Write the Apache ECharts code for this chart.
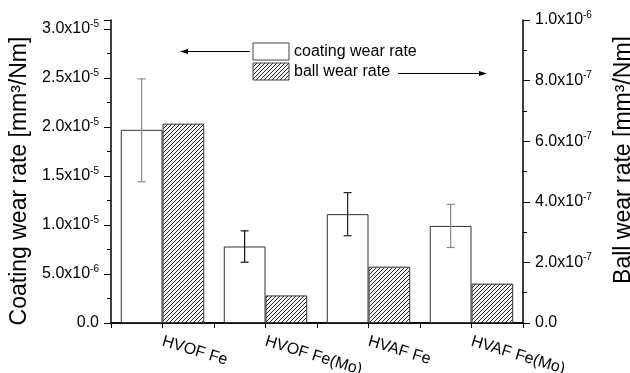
<!DOCTYPE html>
<html>
<head>
<meta charset="utf-8">
<script src="https://cdn.jsdelivr.net/npm/echarts@6/dist/echarts.min.js"></script>
<style>
  html, body { margin: 0; background: #fff; }
  #chart { width: 630px; height: 373px; }
</style>
</head>
<body>
<div id="chart"></div>
<script>
// data
const categories = ['HVOF Fe', 'HVOF Fe(Mo)', 'HVAF Fe', 'HVAF Fe(Mo)']
const coatingRate = [1.97e-5, 7.8e-6, 1.11e-5, 9.9e-6]
const coatingErrLow = [1.44e-5, 6.2e-6, 8.9e-6, 7.7e-6]
const coatingErrHigh = [2.49e-5, 9.4e-6, 1.33e-5, 1.21e-5]
const ballRate = [6.58e-7, 9.1e-8, 1.86e-7, 1.3e-7]
const seriesNames = ['coating wear rate', 'ball wear rate']

// error bar colours per category (some are grey in the original)
const errColors = ['#8a8a8a', '#111', '#222', '#8a8a8a']

const FONT = '"Liberation Sans", Arial, sans-serif'
const GAP = 0.19

// diagonal hatch for the ball bars
const makeHatch = () => {
  const c = document.createElement('canvas')
  c.width = 8
  c.height = 8
  const ctx = c.getContext('2d')
  ctx.fillStyle = '#f4f4f4'
  ctx.fillRect(0, 0, 8, 8)
  ctx.strokeStyle = '#2a2a2a'
  ctx.lineWidth = 1
  for (let k = -8; k <= 8; k += 4) {
    ctx.beginPath()
    ctx.moveTo(k, 8)
    ctx.lineTo(k + 8, 0)
    ctx.stroke()
  }
  return c
}
const hatch = makeHatch()

const sciLabel = (v) => {
  if (Math.abs(v) < 1e-15) return '{m|0.0}'
  const exp = Math.floor(Math.log10(v) + 1e-9)
  const mant = (v / Math.pow(10, exp)).toFixed(1)
  return `{m|${mant}x10}{e|${exp}}`
}

const labelRich = {
  m: { fontSize: 16, fontFamily: FONT, color: '#000', lineHeight: 20 },
  e: { fontSize: 10, fontFamily: FONT, color: '#000', lineHeight: 10, verticalAlign: 'top' },
}

const chart = echarts.init(document.getElementById('chart'), null, { renderer: 'canvas' })

const option = {
  backgroundColor: '#fff',
  animation: false,
  grid: { left: 111, right: 107, top: 20, bottom: 50, containLabel: false, outerBoundsMode: 'none' },
  xAxis: [
    {
      type: 'category',
      data: categories,
      position: 'bottom',
      axisLine: { lineStyle: { color: '#000', width: 1.5 } },
      axisTick: { show: false },
      axisLabel: {
        rotate: -17,
        margin: 18,
        fontSize: 16,
        fontFamily: FONT,
        color: '#000',
        interval: 0,
      },
    },
    {
      type: 'value',
      position: 'top',
      min: 0,
      max: 8,
      interval: 1,
      axisLine: { show: true, lineStyle: { color: '#000', width: 1.5 } },
      axisTick: { show: true, inside: true, length: 5, lineStyle: { color: '#000' } },
      axisLabel: { show: false },
      splitLine: { show: false },
    },
  ],
  yAxis: [
    {
      type: 'value',
      position: 'left',
      min: 0,
      max: 3.09e-5,
      interval: 5e-6,
      name: 'Coating wear rate [mm³/Nm]',
      nameLocation: 'middle',
      nameRotate: 90,
      nameGap: 78,
      nameTextStyle: { fontSize: 23, fontFamily: FONT, color: '#000', padding: [0, 19, 0, 0] },
      axisLine: { show: true, lineStyle: { color: '#000', width: 1.5 } },
      axisTick: { show: true, length: 7, lineStyle: { color: '#000' } },
      minorTick: { show: true, splitNumber: 2, length: 4, lineStyle: { color: '#000' } },
      axisLabel: { margin: 12, formatter: sciLabel, rich: labelRich, showMaxLabel: false },
      splitLine: { show: false },
    },
    {
      type: 'value',
      position: 'right',
      min: 0,
      max: 1e-6,
      interval: 2e-7,
      name: 'Ball wear rate [mm³/Nm]',
      nameLocation: 'middle',
      nameRotate: 90,
      nameGap: 89,
      nameTextStyle: { fontSize: 23, fontFamily: FONT, color: '#000', padding: [0, 0, 0, 23] },
      axisLine: { show: true, lineStyle: { color: '#000', width: 1.5 } },
      axisTick: { show: true, length: 7, lineStyle: { color: '#000' } },
      minorTick: { show: true, splitNumber: 2, length: 4, lineStyle: { color: '#000' } },
      axisLabel: { margin: 12, formatter: sciLabel, rich: labelRich },
      splitLine: { show: false },
    },
  ],
  series: [
    {
      name: seriesNames[0],
      type: 'bar',
      xAxisIndex: 0,
      yAxisIndex: 0,
      data: coatingRate,
      barGap: '0%',
      barCategoryGap: GAP * 100 + '%',
      itemStyle: { color: '#fff', borderColor: '#333', borderWidth: 1 },
      z: 2,
    },
    {
      name: seriesNames[1],
      type: 'bar',
      xAxisIndex: 0,
      yAxisIndex: 1,
      data: ballRate,
      barGap: '0%',
      barCategoryGap: GAP * 100 + '%',
      itemStyle: { color: { image: hatch, repeat: 'repeat' }, borderColor: '#333', borderWidth: 1 },
      z: 2,
    },
    {
      name: 'error',
      type: 'custom',
      xAxisIndex: 0,
      yAxisIndex: 0,
      z: 3,
      data: categories.map((c, i) => [i, coatingErrLow[i], coatingErrHigh[i]]),
      renderItem: (params, api) => {
        const i = api.value(0)
        const band = api.size([1, 0])[0]
        const shift = -band * (1 - GAP) / 4
        const lo = api.coord([i, api.value(1)])
        const hi = api.coord([i, api.value(2)])
        const x = lo[0] + shift
        const cap = 4
        const style = { stroke: errColors[i], lineWidth: 1.2 }
        return {
          type: 'group',
          children: [
            { type: 'line', shape: { x1: x, y1: lo[1], x2: x, y2: hi[1] }, style },
            { type: 'line', shape: { x1: x - cap, y1: lo[1], x2: x + cap, y2: lo[1] }, style },
            { type: 'line', shape: { x1: x - cap, y1: hi[1], x2: x + cap, y2: hi[1] }, style },
          ],
        }
      },
    },
  ],
  // legend box and the two arrows pointing to the axes
  graphic: [
    { type: 'rect', shape: { x: 253, y: 43, width: 36, height: 17 }, style: { fill: '#fff', stroke: '#444', lineWidth: 1 } },
    { type: 'rect', shape: { x: 253, y: 63, width: 36, height: 17 }, style: { fill: { image: hatch, repeat: 'repeat' }, stroke: '#444', lineWidth: 1 } },
    { type: 'text', x: 294, y: 52, style: { text: seriesNames[0], font: '16px ' + FONT, fill: '#000', verticalAlign: 'middle' } },
    { type: 'text', x: 294, y: 72, style: { text: seriesNames[1], font: '16px ' + FONT, fill: '#000', verticalAlign: 'middle' } },
    { type: 'line', shape: { x1: 250, y1: 51.5, x2: 186, y2: 51.5 }, style: { stroke: '#000', lineWidth: 1 } },
    { type: 'polygon', shape: { points: [[180, 51.5], [188, 49], [188, 54]] }, style: { fill: '#000' } },
    { type: 'line', shape: { x1: 398, y1: 73.5, x2: 481, y2: 73.5 }, style: { stroke: '#000', lineWidth: 1 } },
    { type: 'polygon', shape: { points: [[487, 73.5], [479, 71], [479, 76]] }, style: { fill: '#000' } },
  ],
}

chart.setOption(option)
</script>
</body>
</html>
